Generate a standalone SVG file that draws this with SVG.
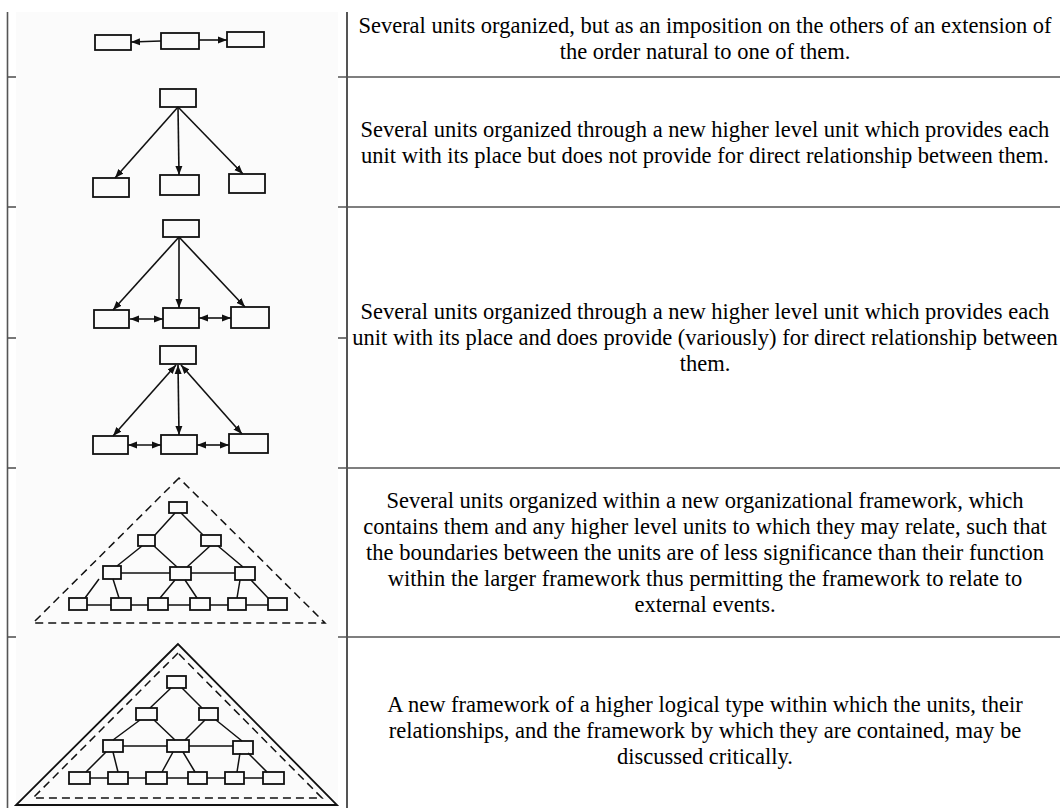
<svg xmlns="http://www.w3.org/2000/svg" width="1060" height="808" viewBox="0 0 1060 808">
<defs>
<marker id="ah" markerUnits="userSpaceOnUse" markerWidth="10" markerHeight="9" refX="9" refY="4.5" orient="auto-start-reverse">
<path d="M0,1 L9,4.5 L0,8 z" fill="#111"/>
</marker>
<style>
.grid{stroke:#555;stroke-width:1.6;fill:none}
.u{fill:none;stroke:#111;stroke-width:1.8}
.e{stroke:#111;stroke-width:1.5;fill:none}
.a{stroke:#111;stroke-width:1.6;fill:none;marker-end:url(#ah)}
.d{stroke:#111;stroke-width:1.6;fill:none;marker-start:url(#ah);marker-end:url(#ah)}
.dash{fill:none;stroke:#111;stroke-width:1.5;stroke-dasharray:8,5}
.t{font-family:"Liberation Serif","Times New Roman",serif;font-size:22.5px;fill:#000;text-anchor:middle}
</style>
</defs>
<rect x="0" y="0" width="1060" height="808" fill="#fff"/>
<rect x="16" y="12" width="322" height="796" fill="#fbfbfb"/>
<g id="table" class="grid">
<line x1="7.5" y1="12" x2="7.5" y2="808"/>
<line x1="347" y1="12" x2="347" y2="808" stroke-width="2"/>
<line x1="7" y1="77" x2="16" y2="77"/>
<line x1="7" y1="207" x2="16" y2="207"/>
<line x1="7" y1="338" x2="16" y2="338"/>
<line x1="7" y1="468" x2="16" y2="468"/>
<line x1="7" y1="637" x2="16" y2="637"/>
<line x1="338" y1="77" x2="1060" y2="77"/>
<line x1="338" y1="207" x2="1060" y2="207"/>
<line x1="338" y1="338" x2="347" y2="338"/>
<line x1="338" y1="468" x2="1060" y2="468"/>
<line x1="338" y1="637" x2="1060" y2="637"/>
</g>
<g id="row1-diagram">
<rect class="u" x="95" y="35" width="36" height="15"/>
<rect class="u" x="161" y="33" width="38" height="16"/>
<rect class="u" x="227" y="32" width="37" height="15"/>
</g>
<g id="row2-diagram">
<rect class="u" x="160" y="89" width="36" height="18"/>
<rect class="u" x="93" y="178" width="36" height="19"/>
<rect class="u" x="160" y="175" width="39" height="20"/>
<rect class="u" x="229" y="174" width="36" height="19"/>
</g>
<g id="row3-diagram">
<rect class="u" x="163" y="220" width="36" height="17"/>
<rect class="u" x="94" y="310" width="35" height="18"/>
<rect class="u" x="163" y="308" width="36" height="20"/>
<rect class="u" x="231" y="307" width="38" height="21"/>
</g>
<g id="row4-diagram">
<rect class="u" x="160" y="346" width="36" height="18"/>
<rect class="u" x="93" y="436" width="35" height="18"/>
<rect class="u" x="161" y="435" width="36" height="19"/>
<rect class="u" x="229" y="434" width="39" height="19"/>
</g>
<g id="row5-diagram">
<polygon class="dash" points="179,478 33,623 325,623"/>
<rect class="u" x="169" y="502" width="18" height="11"/>
<rect class="u" x="138" y="535" width="17" height="11"/>
<rect class="u" x="201" y="535" width="20" height="11"/>
<rect class="u" x="103" y="566" width="18" height="13"/>
<rect class="u" x="170" y="567" width="21" height="13"/>
<rect class="u" x="235" y="567" width="20" height="13"/>
<rect class="u" x="69" y="598" width="18" height="12"/>
<rect class="u" x="111" y="598" width="20" height="12"/>
<rect class="u" x="148" y="598" width="20" height="12"/>
<rect class="u" x="190" y="598" width="20" height="12"/>
<rect class="u" x="228" y="598" width="18" height="12"/>
<rect class="u" x="268" y="598" width="19" height="12"/>
</g>
<g id="row6-diagram">
<polygon class="u" points="178,644 16,805 337,805"/>
<polygon class="dash" points="178,653 33,798 322,798"/>
<rect class="u" x="167" y="676" width="19" height="12"/>
<rect class="u" x="136" y="708" width="21" height="12"/>
<rect class="u" x="199" y="708" width="19" height="12"/>
<rect class="u" x="103" y="740" width="20" height="12"/>
<rect class="u" x="167" y="740" width="22" height="12"/>
<rect class="u" x="233" y="741" width="20" height="13"/>
<rect class="u" x="69" y="772" width="21" height="12"/>
<rect class="u" x="108" y="772" width="20" height="12"/>
<rect class="u" x="146" y="772" width="21" height="12"/>
<rect class="u" x="188" y="772" width="19" height="12"/>
<rect class="u" x="225" y="772" width="19" height="12"/>
<rect class="u" x="263" y="772" width="21" height="12"/>
</g>
<g id="connectors">
<line class="a" x1="161" y1="41" x2="131" y2="42"/>
<line class="a" x1="199" y1="40" x2="227" y2="40"/>
<line class="a" x1="178" y1="107" x2="115" y2="178"/>
<line class="a" x1="178" y1="107" x2="179" y2="175"/>
<line class="a" x1="178" y1="107" x2="243" y2="174"/>
<line class="a" x1="179" y1="237" x2="113" y2="310"/>
<line class="a" x1="179" y1="237" x2="179" y2="308"/>
<line class="a" x1="179" y1="237" x2="245" y2="307"/>
<line class="d" x1="130" y1="319" x2="163" y2="319"/>
<line class="d" x1="199" y1="318" x2="231" y2="318"/>
<line class="d" x1="176" y1="365" x2="113" y2="436"/>
<line class="d" x1="178" y1="365" x2="179" y2="435"/>
<line class="d" x1="181" y1="365" x2="242" y2="434"/>
<line class="d" x1="128" y1="445" x2="161" y2="445"/>
<line class="d" x1="197" y1="445" x2="229" y2="445"/>
<path class="e" d="M175,513 L155,535 M181,513 L203,535 M142,546 L117,566 M154,546 L177,567 M210,546 L187,567 M218,546 L243,567 M121,573 L170,573 M191,573 L235,573 M99,579 L85,598 M113,579 L119,598 M175,580 L160,598 M185,580 L197,598 M240,580 L237,598 M251,580 L268,598 M87,605 L111,605 M131,605 L148,605 M168,605 L190,605 M210,605 L228,605 M246,605 L268,605"/>
<path class="e" d="M171,688 L150,708 M182,688 L202,708 M140,720 L113,740 M154,720 L175,740 M205,720 L185,740 M216,720 L242,741 M123,746 L167,746 M189,746 L233,746 M106,752 L86,772 M113,752 L118,772 M173,752 L162,772 M183,752 L195,772 M240,753 L237,772 M248,753 L267,772 M90,778 L108,778 M128,778 L146,778 M167,778 L188,778 M207,778 L225,778 M244,778 L263,778"/>
</g>
<g id="text-row1">
<text class="t" x="705" y="33">Several units organized, but as an imposition on the others of an extension of</text>
<text class="t" x="705" y="59">the order natural to one of them.</text>
</g>
<g id="text-row2">
<text class="t" x="705" y="137">Several units organized through a new higher level unit which provides each</text>
<text class="t" x="705" y="163">unit with its place but does not provide for direct relationship between them.</text>
</g>
<g id="text-row3">
<text class="t" x="705" y="319">Several units organized through a new higher level unit which provides each</text>
<text class="t" x="705" y="345">unit with its place and does provide (variously) for direct relationship between</text>
<text class="t" x="705" y="371">them.</text>
</g>
<g id="text-row4">
<text class="t" x="705" y="508">Several units organized within a new organizational framework, which</text>
<text class="t" x="705" y="534">contains them and any higher level units to which they may relate, such that</text>
<text class="t" x="705" y="560">the boundaries between the units are of less significance than their function</text>
<text class="t" x="705" y="586">within the larger framework thus permitting the framework to relate to</text>
<text class="t" x="705" y="612">external events.</text>
</g>
<g id="text-row5">
<text class="t" x="705" y="712">A new framework of a higher logical type within which the units, their</text>
<text class="t" x="705" y="738">relationships, and the framework by which they are contained, may be</text>
<text class="t" x="705" y="764">discussed critically.</text>
</g>
</svg>
